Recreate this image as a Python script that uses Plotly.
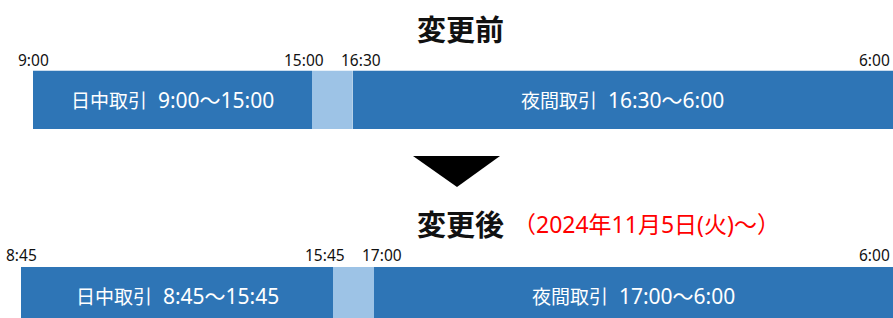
import plotly.graph_objects as go

# ---------------- data ----------------
row_titles = ["変更前", "変更後"]
change_note = "（2024年11月5日(火)～）"
session_names = ["日中取引", "夜間取引"]
times_before = ["9:00", "15:00", "16:30", "6:00"]   # day start, day end, night start, night end
times_after = ["8:45", "15:45", "17:00", "6:00"]

# ---------------- style / layout ----------------
W, H = 893, 318
DARK = "#2E75B6"
LIGHT = "#9DC3E6"
CJK = "Noto Sans CJK JP"
MIX = "Noto Sans, Noto Sans CJK JP"

# schematic pixel spans for each segment (layout only)
rows_layout = [
    dict(xpx=[33, 312, 352.5, 893], ypx=(70.5, 129), yrange=[-0.5, 0.5], tshift=-2),
    dict(xpx=[21, 333, 374, 893], ypx=(267, 318), yrange=[0.5 - 51 / 58.5, 0.5], tshift=-1),
]


def to_hours(t):
    h, m = t.split(":")
    return int(h) + int(m) / 60


def hours_seq(times):
    out = []
    for t in times:
        v = to_hours(t)
        while out and v < out[-1]:
            v += 24
        out.append(v)
    return out


TICKFONT = dict(family=MIX, size=15.5, color="#111")

fig = go.Figure()
layout_axes = {}
annotations = []
ax_i = 0
for r, (times, lay) in enumerate(zip([times_before, times_after], rows_layout)):
    hrs = hours_seq(times)
    ya = "y" if r == 0 else "y2"
    yname = "yaxis" if r == 0 else "yaxis2"
    y0, y1 = lay["ypx"]
    ts = lay["tshift"]
    layout_axes[yname] = dict(domain=[(H - y1) / H, (H - y0) / H], range=lay["yrange"],
                              visible=False, fixedrange=True)
    seg_colors = [DARK, LIGHT, DARK]
    for s in range(3):
        ax_i += 1
        xa = "x" if ax_i == 1 else f"x{ax_i}"
        xname = "xaxis" if ax_i == 1 else f"xaxis{ax_i}"
        start, end = hrs[s], hrs[s + 1]
        px0, px1 = lay["xpx"][s], lay["xpx"][s + 1]
        layout_axes[xname] = dict(domain=[px0 / W, px1 / W], range=[start, end],
                                  visible=False, fixedrange=True, anchor=ya)
        fig.add_trace(go.Bar(
            orientation="h", y=[0], x=[end - start], base=[start], width=1,
            marker=dict(color=seg_colors[s], line=dict(width=0)),
            xaxis=xa, yaxis=ya, hoverinfo="skip", showlegend=False,
        ))
        # session labels inside day/night bars
        if s in (0, 2):
            name = session_names[0] if s == 0 else session_names[1]
            annotations.append(dict(
                x=(start + end) / 2, y=0, xref=xa, yref=ya,
                text=f"<span style='font-size:19px'>{name}</span>  {times[s]}～{times[s + 1]}",
                showarrow=False, font=dict(family=MIX, size=21, color="white"),
                xanchor="center", yanchor="middle",
            ))
        # time tick labels
        if s == 0:
            annotations.append(dict(x=start, y=0.5, xref=xa, yref=ya, text=times[0],
                                    showarrow=False, xanchor="center", yanchor="bottom",
                                    yshift=ts, font=TICKFONT))
            annotations.append(dict(x=end, y=0.5, xref=xa, yref=ya, text=times[1],
                                    showarrow=False, xanchor="center", yanchor="bottom",
                                    xshift=-8, yshift=ts, font=TICKFONT))
        if s == 2:
            annotations.append(dict(x=start, y=0.5, xref=xa, yref=ya, text=times[2],
                                    showarrow=False, xanchor="center", yanchor="bottom",
                                    xshift=8, yshift=ts, font=TICKFONT))
            annotations.append(dict(x=end, y=0.5, xref=xa, yref=ya, text=times[3],
                                    showarrow=False, xanchor="right", yanchor="bottom",
                                    xshift=-1, yshift=ts, font=TICKFONT))

# row titles
annotations.append(dict(x=460 / W, y=1 - 28 / H, xref="paper", yref="paper",
                        text=f"<b>{row_titles[0]}</b>",
                        showarrow=False, xanchor="center", yanchor="middle",
                        font=dict(family=CJK, size=29, color="#111")))
annotations.append(dict(x=460 / W, y=1 - 223 / H, xref="paper", yref="paper",
                        text=f"<b>{row_titles[1]}</b>",
                        showarrow=False, xanchor="center", yanchor="middle",
                        font=dict(family=CJK, size=29, color="#111")))
annotations.append(dict(x=511 / W, y=1 - 224 / H, xref="paper", yref="paper", text=change_note,
                        showarrow=False, xanchor="left", yanchor="middle",
                        font=dict(family=MIX, size=23, color="#FF0000")))

fig.update_layout(
    width=W, height=H, margin=dict(l=0, r=0, t=0, b=0),
    paper_bgcolor="white", plot_bgcolor="rgba(0,0,0,0)",
    barmode="overlay", annotations=annotations,
    shapes=[dict(type="path", xref="paper", yref="paper",
                 path=f"M {413 / W} {1 - 156 / H} L {500 / W} {1 - 156 / H} L {457 / W} {1 - 187 / H} Z",
                 fillcolor="black", line=dict(width=0))],
    **layout_axes,
)

fig.write_html("out.html", config={"displayModeBar": False},
               post_script="document.body.style.margin='0px';")
